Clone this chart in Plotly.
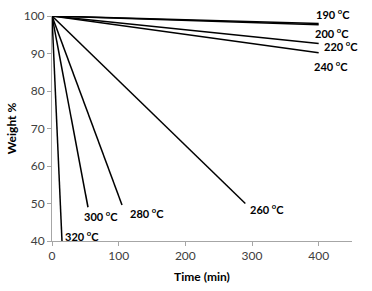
import plotly.graph_objects as go

temps = ["190", "200", "220", "240", "260", "280", "300", "320"]
end_time = [400, 400, 400, 400, 290, 105, 54, 15]
end_weight = [98.0, 97.7, 92.7, 90.2, 50.0, 49.6, 49.0, 40.0]
label_x = [421, 420, 433, 418, 323, 142, 74, 45]
label_y = [100.6, 95.6, 92.0, 86.7, 48.8, 47.5, 46.7, 41.4]

fig = go.Figure()
for t, xe, ye in zip(temps, end_time, end_weight):
    fig.add_trace(go.Scatter(x=[0, xe], y=[100, ye], mode="lines",
                             line=dict(color="black", width=1.5),
                             showlegend=False, name=t + " °C", cliponaxis=False))
for t, lx, ly in zip(temps, label_x, label_y):
    # convert y to paper coords so labels above the axis range still draw
    py = (ly - 40) / 60
    fig.add_annotation(x=lx, y=py, yref="paper", text="<b>" + t + " <sup>o</sup>C</b>",
                       showarrow=False, font=dict(family="Lato", size=11, color="black"),
                       xanchor="center", yanchor="middle")

axis_common = dict(showgrid=False, zeroline=False, showline=True,
                   linecolor="#a6a6a6", linewidth=1, ticks="outside",
                   tickcolor="#a6a6a6", ticklen=4, automargin=False,
                   tickfont=dict(family="Lato", size=12, color="#404040"))
fig.update_xaxes(range=[0, 450], tickvals=[0, 100, 200, 300, 400],
                 title=dict(text="<b>Time (min)</b>", standoff=10,
                            font=dict(family="Lato", size=12, color="black")),
                 **axis_common)
fig.update_yaxes(range=[40, 100], tickvals=[40, 50, 60, 70, 80, 90, 100],
                 title=dict(text="<b>Weight %</b>", standoff=4,
                            font=dict(family="Lato", size=12, color="black")),
                 **axis_common)
fig.update_layout(width=372, height=291, margin=dict(l=52, r=20, t=16, b=50),
                  plot_bgcolor="white", paper_bgcolor="white")
fig.write_html("out.html", config={"displayModeBar": False},
               post_script="document.body.style.margin='0';")
